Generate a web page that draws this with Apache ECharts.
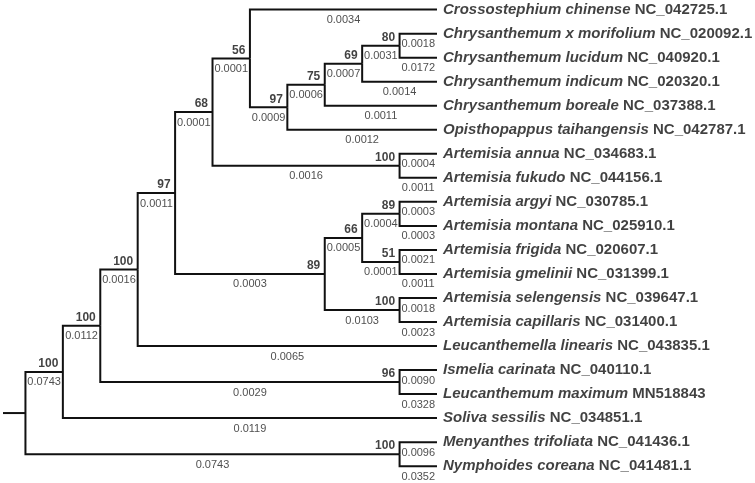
<!DOCTYPE html>
<html>
<head>
<meta charset="utf-8">
<script src="https://cdn.jsdelivr.net/npm/echarts@6/dist/echarts.min.js"></script>
<style>
html, body { margin: 0; padding: 0; background: #fff; }
#main { width: 755px; height: 483px; }
</style>
</head>
<body>
<div id="main"></div>
<script>
// tips, top to bottom
const taxa = [
  'Crossostephium chinense', 'Chrysanthemum x morifolium', 'Chrysanthemum lucidum',
  'Chrysanthemum indicum', 'Chrysanthemum boreale', 'Opisthopappus taihangensis',
  'Artemisia annua', 'Artemisia fukudo', 'Artemisia argyi', 'Artemisia montana',
  'Artemisia frigida', 'Artemisia gmelinii', 'Artemisia selengensis', 'Artemisia capillaris',
  'Leucanthemella linearis', 'Ismelia carinata', 'Leucanthemum maximum', 'Soliva sessilis',
  'Menyanthes trifoliata', 'Nymphoides coreana'
]
const accessions = [
  'NC_042725.1', 'NC_020092.1', 'NC_040920.1', 'NC_020320.1', 'NC_037388.1', 'NC_042787.1',
  'NC_034683.1', 'NC_044156.1', 'NC_030785.1', 'NC_025910.1', 'NC_020607.1', 'NC_031399.1',
  'NC_039647.1', 'NC_031400.1', 'NC_043835.1', 'NC_040110.1', 'MN518843', 'NC_034851.1',
  'NC_041436.1', 'NC_041481.1'
]
const tipLengths = [
  0.0034, 0.0018, 0.0172, 0.0014, 0.0011, 0.0012, 0.0004, 0.0011, 0.0003, 0.0003,
  0.0021, 0.0011, 0.0018, 0.0023, 0.0065, 0.0090, 0.0328, 0.0119, 0.0096, 0.0352
]

// internal clades ('t' = tip index, 'c' = clade index), children before parents
const cladeChildren = [
  ['t1', 't2'], ['c0', 't3'], ['c1', 't4'], ['c2', 't5'], ['t0', 'c3'],
  ['t6', 't7'], ['c4', 'c5'], ['t8', 't9'], ['t10', 't11'], ['c7', 'c8'],
  ['t12', 't13'], ['c9', 'c10'], ['c6', 'c11'], ['c12', 't14'], ['t15', 't16'],
  ['c13', 'c14'], ['c15', 't17'], ['t18', 't19']
]
const cladeSupport = [80, 69, 75, 97, 56, 100, 68, 89, 51, 66, 100, 89, 97, 100, 96, 100, 100, 100]
const cladeLengths = [
  0.0031, 0.0007, 0.0006, 0.0009, 0.0001, 0.0016, 0.0001, 0.0004, 0.0001, 0.0005,
  0.0103, 0.0003, 0.0011, 0.0016, 0.0029, 0.0112, 0.0743, 0.0743
]
const rootChildren = ['c16', 'c17']

const stemLength = 0.6
const fontFamily = 'Liberation Sans, Arial, sans-serif'

// cladogram layout: y from tip order, x from node height
var nodes = {}
taxa.forEach(function(name, i) {
  nodes['t' + i] = { y: i, height: 0, length: tipLengths[i], tip: i }
})
function makeNode(keys) {
  var kids = keys.map(function(k) { return nodes[k] })
  return {
    kids: kids,
    y: (kids[0].y + kids[kids.length - 1].y) / 2,
    height: Math.max.apply(null, kids.map(function(c) { return c.height })) + 1
  }
}
cladeChildren.forEach(function(keys, i) {
  var n = makeNode(keys)
  n.support = cladeSupport[i]
  n.length = cladeLengths[i]
  nodes['c' + i] = n
})
var root = makeNode(rootChildren)

var edges = []
var supportPts = []
var lengthPts = []
var tipPts = []
function walk(node, parent) {
  node.x = root.height - node.height
  if (parent) {
    edges.push({ coords: [[parent.x, parent.y], [parent.x, node.y], [node.x, node.y]] })
    lengthPts.push([(parent.x + node.x) / 2, node.y, node.length.toFixed(4)])
  }
  if (node.support !== undefined) supportPts.push([node.x, node.y, node.support])
  if (node.tip !== undefined) tipPts.push([node.x, node.y, node.tip])
  if (node.kids) node.kids.forEach(function(k) { walk(k, node) })
}
walk(root, null)
edges.push({ coords: [[root.x - stemLength, root.y], [root.x, root.y]] })

var myChart = echarts.init(document.getElementById('main'))
var option = {
  animation: false,
  backgroundColor: '#fff',
  grid: { left: 3, right: 0, top: 0, bottom: 0 },
  xAxis: { type: 'value', min: -0.6, max: 19.5, show: false },
  yAxis: { type: 'value', min: -0.4, max: 19.7, inverse: true, show: false },
  series: [
    {
      type: 'lines',
      coordinateSystem: 'cartesian2d',
      polyline: true,
      silent: true,
      lineStyle: { color: '#111', width: 2, opacity: 1 },
      data: edges
    },
    {
      type: 'scatter',
      symbolSize: 0,
      silent: true,
      data: supportPts,
      label: {
        show: true,
        position: [-4.5, -8],
        align: 'right',
        verticalAlign: 'middle',
        fontFamily: fontFamily,
        fontSize: 12,
        fontWeight: 'bold',
        color: '#111',
        formatter: function(p) { return p.value[2] }
      }
    },
    {
      type: 'scatter',
      symbolSize: 0,
      silent: true,
      data: lengthPts,
      label: {
        show: true,
        position: [0, 10.5],
        align: 'center',
        verticalAlign: 'middle',
        fontFamily: fontFamily,
        fontSize: 11,
        color: '#222',
        formatter: function(p) { return p.value[2] }
      }
    },
    {
      type: 'scatter',
      symbolSize: 0,
      silent: true,
      data: tipPts,
      label: {
        show: true,
        position: [6, 0],
        align: 'left',
        verticalAlign: 'middle',
        fontFamily: fontFamily,
        fontSize: 15,
        fontWeight: 'bold',
        color: '#111',
        formatter: function(p) {
          var i = p.value[2]
          return '{i|' + taxa[i] + '} {b|' + accessions[i] + '}'
        },
        rich: {
          i: { fontFamily: fontFamily, fontSize: 15, fontWeight: 'bold', fontStyle: 'italic', color: '#111' },
          b: { fontFamily: fontFamily, fontSize: 15, fontWeight: 'bold', color: '#111' }
        }
      }
    }
  ]
}
myChart.setOption(option)
</script>
</body>
</html>
